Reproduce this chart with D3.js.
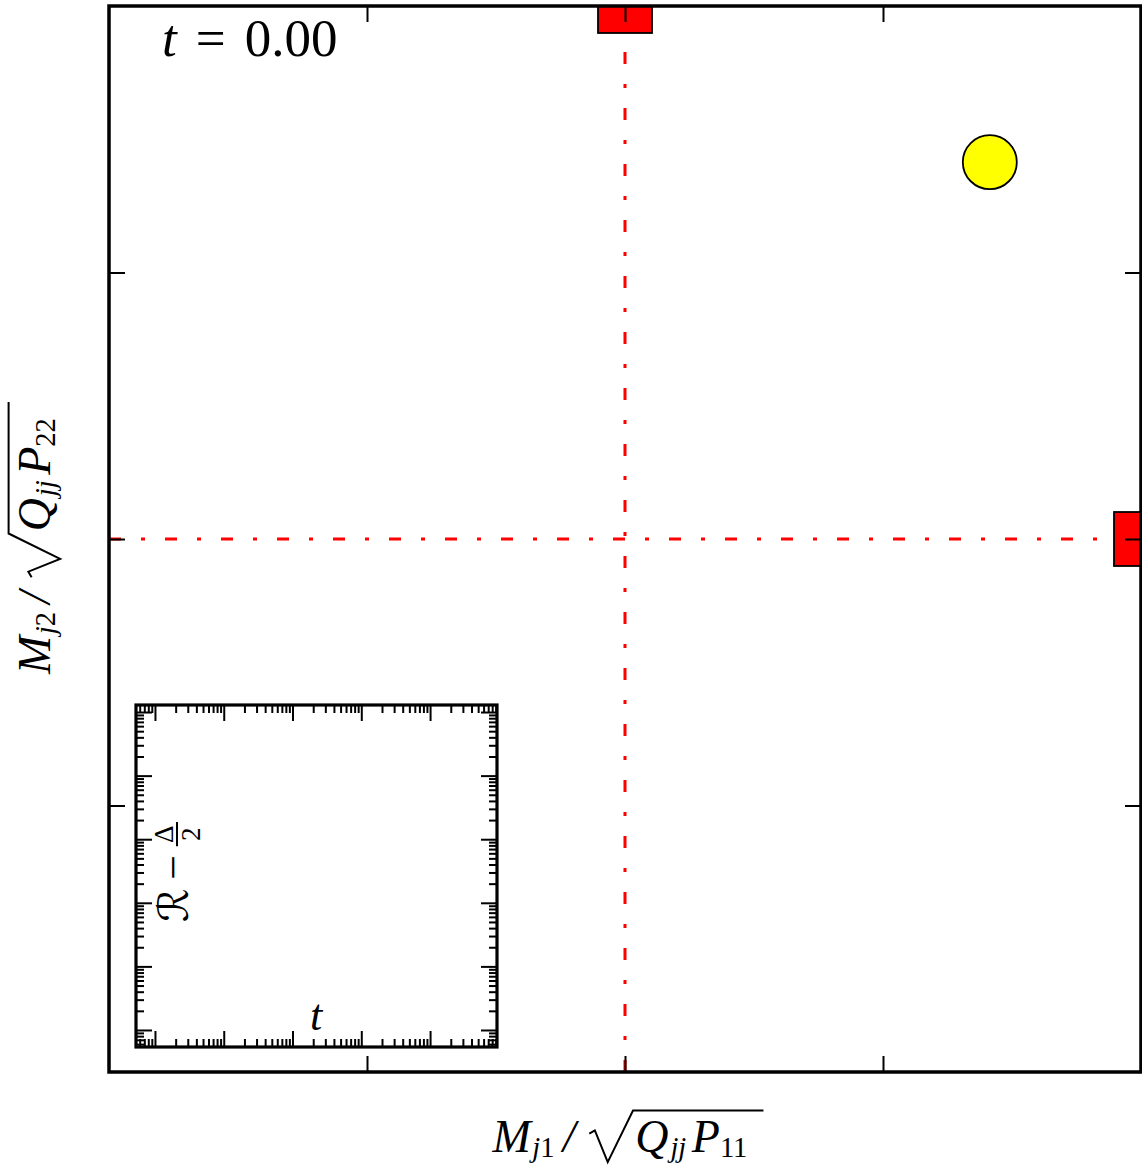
<!DOCTYPE html>
<html>
<head>
<meta charset="utf-8">
<script src="https://cdn.jsdelivr.net/npm/d3@7/dist/d3.min.js"></script>
<style>
  body { margin: 0; background: #fff; }
  svg { display: block; }
  text { font-family: "Liberation Serif", serif; fill: #000; }
</style>
</head>
<body>
<svg id="chart" width="1142" height="1173"></svg>
<script>
// ---- data ----
const squareX = [0.0, 1.0];      // red squares (the two axis points)
const squareY = [1.0, 0.0];
const circleX = [0.707];         // yellow state marker
const circleY = [0.707];
const guideX = [0.0];            // red dash-dot reference lines
const guideY = [0.0];
const mainTicks = [-0.5, 0.0, 0.5];
const timeValue = 0.00;
const insetXDomain = [0.53, 9.4e4];   // t, log axis (inset is empty)
const insetYDomain = [5.4e-6, 1.29];  // R - Delta/2, log axis

// ---- layout ----
const plot = {left: 109, top: 6, right: 1141, bottom: 1072};
const ins = {left: 136, top: 705, right: 497, bottom: 1047};

const svg = d3.select("#chart");

const x = d3.scaleLinear().domain([-1, 1]).range([plot.left, plot.right]);
const y = d3.scaleLinear().domain([-1, 1]).range([plot.bottom, plot.top]);

svg.append("defs").append("clipPath").attr("id", "clip")
  .append("rect")
  .attr("x", plot.left).attr("y", plot.top)
  .attr("width", plot.right - plot.left).attr("height", plot.bottom - plot.top);

const dash = "12,20,4,20";

// vertical guide starts at the bottom, horizontal at the left (matplotlib axvline/axhline)
svg.selectAll(".vguide").data(guideX).enter().append("line")
  .attr("x1", d => x(d)).attr("x2", d => x(d))
  .attr("y1", plot.bottom).attr("y2", plot.top)
  .attr("stroke", "red").attr("stroke-width", 3).attr("stroke-dasharray", dash);
svg.selectAll(".hguide").data(guideY).enter().append("line")
  .attr("y1", d => y(d)).attr("y2", d => y(d))
  .attr("x1", plot.left).attr("x2", plot.right)
  .attr("stroke", "red").attr("stroke-width", 3).attr("stroke-dasharray", dash);

const marks = svg.append("g").attr("clip-path", "url(#clip)");
const sq = 54;
marks.selectAll("rect.sq").data(squareX.map((d, i) => [d, squareY[i]])).enter().append("rect")
  .attr("x", d => x(d[0]) - sq / 2).attr("y", d => y(d[1]) - sq / 2)
  .attr("width", sq).attr("height", sq)
  .attr("fill", "#ff0000").attr("stroke", "#000").attr("stroke-width", 1.8);
marks.selectAll("circle").data(circleX.map((d, i) => [d, circleY[i]])).enter().append("circle")
  .attr("cx", d => x(d[0])).attr("cy", d => y(d[1])).attr("r", 27)
  .attr("fill", "#ffff00").attr("stroke", "#000").attr("stroke-width", 1.8);

// ---- main axes ticks (inward, all sides, no labels) ----
function styleAxis(g) {
  g.select(".domain").remove();
  g.selectAll(".tick line").attr("stroke", "#000").attr("stroke-width", 2);
}
const T = 16;
svg.append("g").attr("transform", `translate(0,${plot.bottom})`)
  .call(d3.axisBottom(x).tickValues(mainTicks).tickSize(-T).tickFormat("")).call(styleAxis);
svg.append("g").attr("transform", `translate(0,${plot.top})`)
  .call(d3.axisTop(x).tickValues(mainTicks).tickSize(-T).tickFormat("")).call(styleAxis);
svg.append("g").attr("transform", `translate(${plot.left},0)`)
  .call(d3.axisLeft(y).tickValues(mainTicks).tickSize(-T).tickFormat("")).call(styleAxis);
svg.append("g").attr("transform", `translate(${plot.right},0)`)
  .call(d3.axisRight(y).tickValues(mainTicks).tickSize(-T).tickFormat("")).call(styleAxis);

svg.append("rect")
  .attr("x", plot.left).attr("y", plot.top)
  .attr("width", plot.right - plot.left).attr("height", plot.bottom - plot.top)
  .attr("fill", "none").attr("stroke", "#000").attr("stroke-width", 3.5);

// ---- inset (log-log, empty) ----
const xi = d3.scaleLog().domain(insetXDomain).range([ins.left, ins.right]);
const yi = d3.scaleLog().domain(insetYDomain).range([ins.bottom, ins.top]);
const isMajor = v => Math.abs(Math.log10(v) - Math.round(Math.log10(v))) < 1e-9;
const xiMaj = xi.ticks().filter(isMajor), xiMin = xi.ticks().filter(v => !isMajor(v));
const yiMaj = yi.ticks().filter(isMajor), yiMin = yi.ticks().filter(v => !isMajor(v));

svg.append("rect")
  .attr("x", ins.left).attr("y", ins.top)
  .attr("width", ins.right - ins.left).attr("height", ins.bottom - ins.top)
  .attr("fill", "#fff");

[[xiMaj, 16], [xiMin, 8]].forEach(([vals, len]) => {
  svg.append("g").attr("transform", `translate(0,${ins.bottom})`)
    .call(d3.axisBottom(xi).tickValues(vals).tickSize(-len).tickFormat("")).call(styleAxis);
  svg.append("g").attr("transform", `translate(0,${ins.top})`)
    .call(d3.axisTop(xi).tickValues(vals).tickSize(-len).tickFormat("")).call(styleAxis);
});
[[yiMaj, 16], [yiMin, 8]].forEach(([vals, len]) => {
  svg.append("g").attr("transform", `translate(${ins.left},0)`)
    .call(d3.axisLeft(yi).tickValues(vals).tickSize(-len).tickFormat("")).call(styleAxis);
  svg.append("g").attr("transform", `translate(${ins.right},0)`)
    .call(d3.axisRight(yi).tickValues(vals).tickSize(-len).tickFormat("")).call(styleAxis);
});

svg.append("rect")
  .attr("x", ins.left).attr("y", ins.top)
  .attr("width", ins.right - ins.left).attr("height", ins.bottom - ins.top)
  .attr("fill", "none").attr("stroke", "#000").attr("stroke-width", 3.2);

// ---- math-ish text layout: pieces laid out left to right on a baseline ----
function mathText(g, pieces, fs) {
  let cx = 0, radStart = null;
  pieces.forEach(p => {
    if (p.gap) { cx += p.gap * fs; return; }
    if (p.rad === "open") { radStart = cx; cx += 1.0 * fs; return; }
    if (p.rad === "close") {
      cx += 0.35 * fs;
      const r = radStart;
      g.append("path")
        .attr("d", `M${r},${-0.40 * fs} L${r + 0.12 * fs},${-0.47 * fs} L${r + 0.40 * fs},${0.22 * fs}` +
                   ` L${r + 0.95 * fs},${-0.90 * fs} H${cx}`)
        .attr("fill", "none").attr("stroke", "#000").attr("stroke-width", 2)
        .attr("stroke-linejoin", "miter");
      return;
    }
    if (p.frac) {
      const f = p.size * fs;
      const num = g.append("text").attr("font-size", f).text(p.frac[0]);
      const den = g.append("text").attr("font-size", f).text(p.frac[1]);
      const wN = num.node().getComputedTextLength(), wD = den.node().getComputedTextLength();
      const w = Math.max(wN, wD) + 0.15 * fs;
      const barY = -0.25 * fs;
      num.attr("x", cx + (w - wN) / 2).attr("y", barY - 4);
      den.attr("x", cx + (w - wD) / 2).attr("y", barY + 4 + 0.68 * f);
      g.append("line").attr("x1", cx).attr("x2", cx + w).attr("y1", barY).attr("y2", barY)
        .attr("stroke", "#000").attr("stroke-width", 2);
      cx += w;
      return;
    }
    const f = (p.sub ? 0.62 : 1) * (p.size || 1) * fs;
    const t = g.append("text")
      .attr("x", cx).attr("y", p.sub ? 0.1 * fs : 0)
      .attr("font-size", f)
      .attr("font-style", p.it ? "italic" : "normal")
      .text(p.s);
    if (p.family) t.style("font-family", p.family);
    cx += t.node().getComputedTextLength();
  });
  return cx;
}

function label(pieces, fs, tx, ty, rotate, anchor) {
  const g = svg.append("g");
  const inner = g.append("g");
  const w = mathText(inner, pieces, fs);
  const off = anchor === "start" ? 0 : -w / 2;
  g.attr("transform", `translate(${tx},${ty})` + (rotate ? " rotate(-90)" : "") + ` translate(${off},0)`);
}

const xLabel = [
  {s: "M", it: true}, {gap: 0.03}, {s: "j", it: true, sub: true}, {s: "1", sub: true}, {gap: 0.18},
  {s: "/", it: true}, {gap: 0.3}, {rad: "open"},
  {s: "Q", it: true}, {gap: 0.04}, {s: "jj", it: true, sub: true}, {gap: 0.12}, {s: "P", it: true},
  {s: "11", sub: true}, {rad: "close"}
];
const yLabel = [
  {s: "M", it: true}, {gap: 0.03}, {s: "j", it: true, sub: true}, {s: "2", sub: true}, {gap: 0.18},
  {s: "/", it: true}, {gap: 0.3}, {rad: "open"},
  {s: "Q", it: true}, {gap: 0.04}, {s: "jj", it: true, sub: true}, {gap: 0.12}, {s: "P", it: true},
  {s: "22", sub: true}, {rad: "close"}
];
label(xLabel, 46, 628, 1152, false);
label(yLabel, 46, 50, 538, true);

// time stamp
label([{s: "t", it: true}, {gap: 0.36}, {s: "="}, {gap: 0.36}, {s: timeValue.toFixed(2)}],
      53, 162, 56, false, "start");

// inset labels
label([{s: "t", it: true}], 44, 316, 1030, false);
label([{s: "\u211B", family: "DejaVu Sans", size: 0.95}, {gap: 0.2}, {s: "\u2212"}, {gap: 0.2},
       {frac: ["\u0394", "2"], size: 0.62}], 44, 188, 872, true);
</script>
</body>
</html>
